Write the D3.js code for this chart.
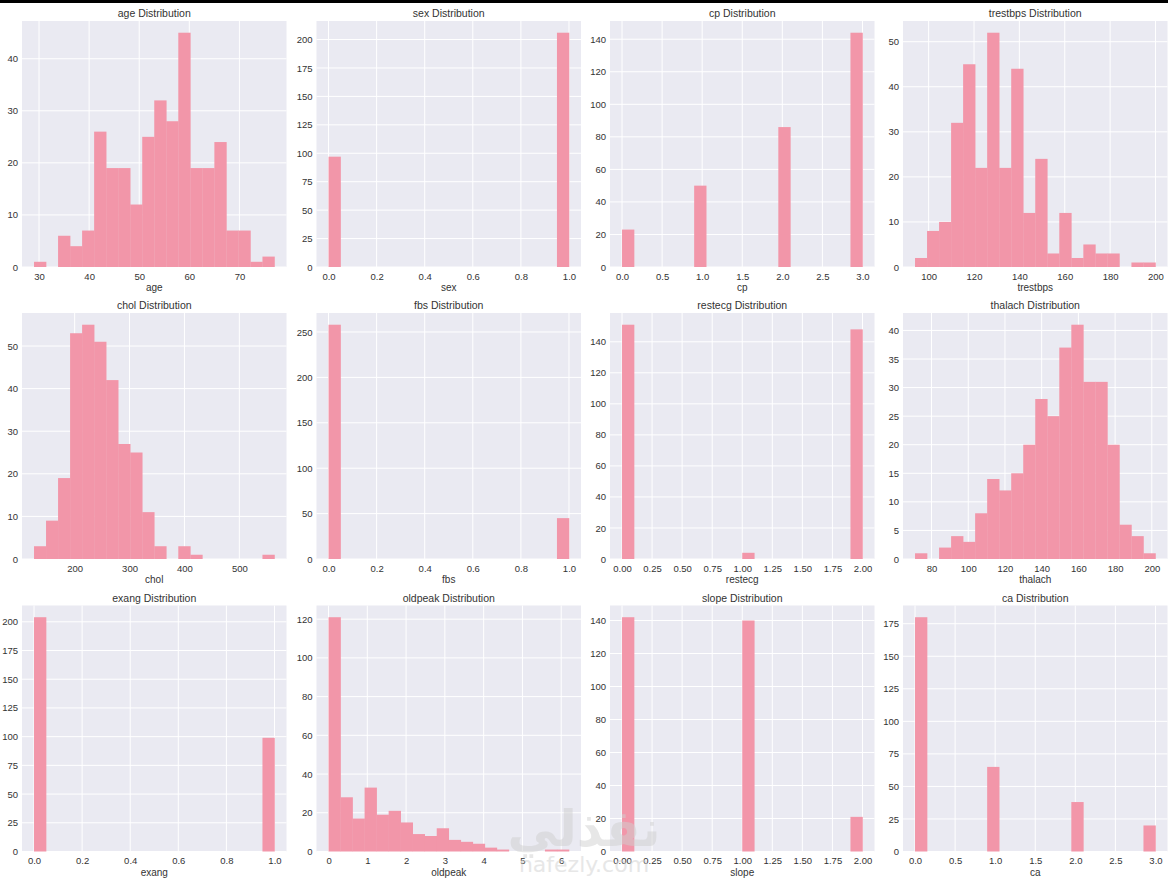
<!DOCTYPE html>
<html>
<head>
<meta charset="utf-8">
<title>Heart data distributions</title>
<script src="https://cdn.jsdelivr.net/npm/d3@7"></script>
<style>
  body { margin: 0; background: #fff; }
  text { font-family: "Liberation Sans", Arial, sans-serif; fill: #333; }
  .title { font-size: 10.5px; }
  .tick text { font-size: 9.5px; }
  .xlabel { font-size: 10px; }
</style>
</head>
<body>
<script>

// column names, in grid order (4 per row)
var columns = ["age", "sex", "cp", "trestbps", "chol", "fbs", "restecg", "thalach", "exang", "oldpeak", "slope", "ca"];

// range of each column: 20 equal bins from min to max
var binMin = [29, 0, 0, 94, 126, 0, 0, 71, 0, 0, 0, 0];
var binMax = [77, 1, 3, 200, 564, 1, 2, 202, 1, 6.2, 2, 3];

// counts per bin
var ageCounts      = [1, 0, 6, 4, 7, 26, 19, 19, 12, 25, 32, 28, 45, 19, 19, 24, 7, 7, 1, 2];
var sexCounts      = [97, 0, 0, 0, 0, 0, 0, 0, 0, 0, 0, 0, 0, 0, 0, 0, 0, 0, 0, 206];
var cpCounts       = [23, 0, 0, 0, 0, 0, 50, 0, 0, 0, 0, 0, 0, 86, 0, 0, 0, 0, 0, 144];
var trestbpsCounts = [2, 8, 10, 32, 45, 22, 52, 22, 44, 12, 24, 3, 12, 2, 5, 3, 3, 0, 1, 1];
var cholCounts     = [3, 9, 19, 53, 55, 51, 42, 27, 25, 11, 3, 0, 3, 1, 0, 0, 0, 0, 0, 1];
var fbsCounts      = [258, 0, 0, 0, 0, 0, 0, 0, 0, 0, 0, 0, 0, 0, 0, 0, 0, 0, 0, 45];
var restecgCounts  = [151, 0, 0, 0, 0, 0, 0, 0, 0, 0, 4, 0, 0, 0, 0, 0, 0, 0, 0, 148];
var thalachCounts  = [1, 0, 2, 4, 3, 8, 14, 12, 15, 20, 28, 25, 37, 41, 31, 31, 20, 6, 4, 1];
var exangCounts    = [204, 0, 0, 0, 0, 0, 0, 0, 0, 0, 0, 0, 0, 0, 0, 0, 0, 0, 0, 99];
var oldpeakCounts  = [121, 28, 17, 33, 19, 21, 15, 9, 8, 12, 6, 5, 4, 2, 1, 0, 0, 0, 1, 1];
var slopeCounts    = [142, 0, 0, 0, 0, 0, 0, 0, 0, 0, 140, 0, 0, 0, 0, 0, 0, 0, 0, 21];
var caCounts       = [180, 0, 0, 0, 0, 0, 65, 0, 0, 0, 0, 0, 0, 38, 0, 0, 0, 0, 0, 20];

var allCounts = [ageCounts, sexCounts, cpCounts, trestbpsCounts, cholCounts, fbsCounts,
                 restecgCounts, thalachCounts, exangCounts, oldpeakCounts, slopeCounts, caCounts];

// tick labels
var xTicks = [
  [30, 40, 50, 60, 70],
  [0, 0.2, 0.4, 0.6, 0.8, 1.0],
  [0, 0.5, 1, 1.5, 2, 2.5, 3],
  [100, 120, 140, 160, 180, 200],
  [200, 300, 400, 500],
  [0, 0.2, 0.4, 0.6, 0.8, 1.0],
  [0, 0.25, 0.5, 0.75, 1, 1.25, 1.5, 1.75, 2],
  [80, 100, 120, 140, 160, 180, 200],
  [0, 0.2, 0.4, 0.6, 0.8, 1.0],
  [0, 1, 2, 3, 4, 5, 6],
  [0, 0.25, 0.5, 0.75, 1, 1.25, 1.5, 1.75, 2],
  [0, 0.5, 1, 1.5, 2, 2.5, 3]
];
var xTickFormat = ["d", ".1f", ".1f", "d", "d", ".1f", ".2f", "d", ".1f", "d", ".2f", ".1f"];
var yTicks = [
  [0, 10, 20, 30, 40],
  [0, 25, 50, 75, 100, 125, 150, 175, 200],
  [0, 20, 40, 60, 80, 100, 120, 140],
  [0, 10, 20, 30, 40, 50],
  [0, 10, 20, 30, 40, 50],
  [0, 50, 100, 150, 200, 250],
  [0, 20, 40, 60, 80, 100, 120, 140],
  [0, 5, 10, 15, 20, 25, 30, 35, 40],
  [0, 25, 50, 75, 100, 125, 150, 175, 200],
  [0, 20, 40, 60, 80, 100, 120],
  [0, 20, 40, 60, 80, 100, 120, 140],
  [0, 25, 50, 75, 100, 125, 150, 175]
];

var w = 1168, h = 879;
var colLeft = [22, 316.5, 610, 903];
var rowTop = [21, 313, 605.5];
var pw = 264.5, ph = 246;
var barColor = "#f296a9";

var svg = d3.select("body").append("svg")
    .attr("width", w)
    .attr("height", h);

// dark strip along the top of the screenshot
svg.append("rect").attr("x", 0).attr("y", 0).attr("width", w).attr("height", 3).attr("fill", "#000");

columns.forEach(function(name, i) {
  var lo = binMin[i], hi = binMax[i], counts = allCounts[i];
  var step = (hi - lo) / counts.length;
  var pad = (hi - lo) * 0.05;

  var x = d3.scaleLinear().domain([lo - pad, hi + pad]).range([0, pw]);
  var y = d3.scaleLinear().domain([0, d3.max(counts) * 1.05]).range([ph, 0]);

  var g = svg.append("g")
      .attr("transform", "translate(" + colLeft[i % 4] + "," + rowTop[Math.floor(i / 4)] + ")");

  g.append("rect")
      .attr("width", pw).attr("height", ph)
      .attr("fill", "#eaeaf2");

  // grid
  g.selectAll(".vgrid").data(xTicks[i]).enter().append("line")
      .attr("x1", function(d) { return x(d); }).attr("x2", function(d) { return x(d); })
      .attr("y1", 0).attr("y2", ph)
      .attr("stroke", "#fff").attr("stroke-width", 1);
  g.selectAll(".hgrid").data(yTicks[i]).enter().append("line")
      .attr("x1", 0).attr("x2", pw)
      .attr("y1", function(d) { return y(d); }).attr("y2", function(d) { return y(d); })
      .attr("stroke", "#fff").attr("stroke-width", 1);

  // bars
  var bins = counts.map(function(c, j) { return { x0: lo + j * step, x1: lo + (j + 1) * step, n: c }; });
  g.selectAll(".bar").data(bins.filter(function(b) { return b.n > 0; })).enter().append("rect")
      .attr("x", function(b) { return x(b.x0); })
      .attr("width", function(b) { return x(b.x1) - x(b.x0) + 0.3; })
      .attr("y", function(b) { return y(b.n); })
      .attr("height", function(b) { return ph - y(b.n); })
      .attr("fill", barColor);

  // axes, no tick marks or domain line (darkgrid look)
  var xAxis = d3.axisBottom(x).tickValues(xTicks[i]).tickFormat(d3.format(xTickFormat[i])).tickSize(0).tickPadding(6);
  var yAxis = d3.axisLeft(y).tickValues(yTicks[i]).tickFormat(d3.format("d")).tickSize(0).tickPadding(4);

  g.append("g").attr("transform", "translate(0," + ph + ")").call(xAxis)
      .call(function(a) { a.select(".domain").remove(); });
  g.append("g").call(yAxis)
      .call(function(a) { a.select(".domain").remove(); });
  g.selectAll(".tick text").attr("fill", "#333").style("font-family", "'Liberation Sans', Arial, sans-serif");

  g.append("text").attr("class", "title")
      .attr("x", pw / 2).attr("y", -4)
      .attr("text-anchor", "middle")
      .text(name + " Distribution");

  g.append("text").attr("class", "xlabel")
      .attr("x", pw / 2).attr("y", ph + 24)
      .attr("text-anchor", "middle")
      .text(name);
});

// faint watermark over the bottom middle
svg.append("text")
    .attr("x", 584).attr("y", 846)
    .attr("text-anchor", "middle")
    .style("font-family", "'DejaVu Sans', sans-serif")
    .style("font-size", "50px").style("font-weight", "bold")
    .style("fill", "#d0d0d0").style("opacity", 0.5)
    .text("نفذلي");
svg.append("text")
    .attr("x", 584).attr("y", 872)
    .attr("text-anchor", "middle")
    .style("font-family", "'DejaVu Sans', sans-serif")
    .style("font-size", "22px")
    .style("fill", "#d0d0d0").style("opacity", 0.5)
    .text("nafezly.com");

</script>
</body>
</html>
